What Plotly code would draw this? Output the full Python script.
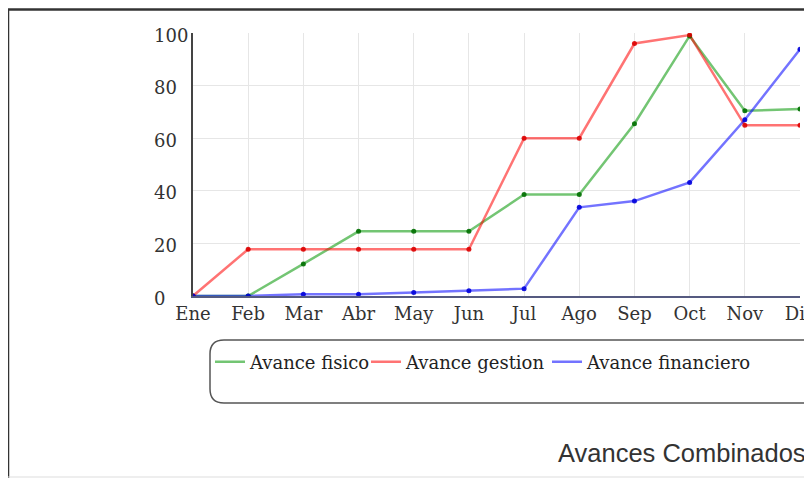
import plotly.graph_objects as go

months = ["Ene", "Feb", "Mar", "Abr", "May", "Jun", "Jul", "Ago", "Sep", "Oct", "Nov", "Dic"]
avance_fisico = [0, 0, 12.2, 24.6, 24.6, 24.6, 38.6, 38.6, 65.5, 98.9, 70.4, 71.1]
avance_gestion = [0, 17.8, 17.8, 17.8, 17.8, 17.8, 60.0, 60.0, 96.0, 99.2, 64.9, 64.9]
avance_financiero = [0, 0, 0.7, 0.7, 1.3, 2.0, 2.8, 33.7, 36.1, 43.2, 67.0, 93.8]
y_ticks = [0, 20, 40, 60, 80, 100]

W, H = 804, 478
OFF = 8  # page body margin
L, R, T, B = 185, 12, 25, 190
pw, ph = W - L - R, H - T - B


def px(x):  # screen x -> paper
    return (x - OFF - L) / pw


def py(y):  # screen y -> paper
    return (H - B - (y - OFF)) / ph


serif = "DejaVu Serif, Liberation Serif, serif"
xs = list(range(len(months)))
fig = go.Figure()
series = [
    ("Avance fisico", avance_fisico, "rgba(0,150,0,0.55)", "rgba(0,110,0,0.9)", "legend", 210),
    ("Avance gestion", avance_gestion, "rgba(255,0,0,0.55)", "rgba(220,0,0,0.9)", "legend2", 366),
    ("Avance financiero", avance_financiero, "rgba(0,0,255,0.55)", "rgba(0,0,220,0.9)", "legend3", 547),
]
legends = {}
for name, vals, lc, mc, lg, lx in series:
    fig.add_trace(go.Scatter(
        x=xs, y=vals, name=name, mode="lines", legend=lg,
        line=dict(color=lc, width=2.5),
    ))
    legends[lg] = dict(
        orientation="h", x=px(lx), y=py(362), xanchor="left", yanchor="middle",
        font=dict(family=serif, size=18, color="#222"),
        bgcolor="rgba(0,0,0,0)", borderwidth=0, itemwidth=30,
    )
for name, vals, lc, mc, lg, lx in series:
    fig.add_trace(go.Scatter(
        x=xs, y=vals, name=name, mode="markers", showlegend=False,
        marker=dict(color=mc, size=5),
    ))

fig.update_layout(
    width=W, height=H,
    margin=dict(l=L, r=R, t=T, b=B, autoexpand=False),
    paper_bgcolor="white", plot_bgcolor="white",
    showlegend=True,
    xaxis=dict(
        range=[0, len(months) - 1], tickvals=xs, ticktext=months,
        showgrid=True, gridcolor="#e6e6e6", gridwidth=1,
        showline=True, linecolor="#555a80", linewidth=2,
        zeroline=False, ticks="", ticklen=0, ticklabeloverflow="allow",
        automargin=False,
        tickfont=dict(family=serif, size=18, color="#333"),
    ),
    yaxis=dict(
        range=[0, 100], tickvals=y_ticks, showticklabels=False,
        showgrid=True, gridcolor="#e6e6e6", gridwidth=1,
        showline=True, linecolor="#444", linewidth=2,
        zeroline=False, ticks="", ticklen=0, automargin=False,
    ),
    **legends,
)

# Left-aligned y tick labels
for v in y_ticks:
    fig.add_annotation(
        text=str(v), xref="paper", yref="y", x=px(152), y=v,
        xanchor="left", yanchor="middle", yshift=-2, showarrow=False,
        font=dict(family=serif, size=18, color="#333"),
    )

# Rounded legend box
x0, x1, y0, y1, r = 210, 830, 340, 403, 14
path = (
    f"M {px(x0 + r)},{py(y0)} L {px(x1 - r)},{py(y0)} "
    f"Q {px(x1)},{py(y0)} {px(x1)},{py(y0 + r)} L {px(x1)},{py(y1 - r)} "
    f"Q {px(x1)},{py(y1)} {px(x1 - r)},{py(y1)} L {px(x0 + r)},{py(y1)} "
    f"Q {px(x0)},{py(y1)} {px(x0)},{py(y1 - r)} L {px(x0)},{py(y0 + r)} "
    f"Q {px(x0)},{py(y0)} {px(x0 + r)},{py(y0)} Z"
)
fig.add_shape(type="path", path=path, xref="paper", yref="paper",
              line=dict(color="#555", width=1.5), layer="below")

# Outer frame
fig.add_shape(type="line", xref="paper", yref="paper",
              x0=px(8), x1=px(8), y0=py(9), y1=py(490), line=dict(color="#333", width=2.5))
fig.add_shape(type="line", xref="paper", yref="paper",
              x0=px(7), x1=px(830), y0=py(9.5), y1=py(9.5), line=dict(color="#333", width=2.5))
fig.add_shape(type="line", xref="paper", yref="paper",
              x0=px(7), x1=px(830), y0=py(477), y1=py(477), line=dict(color="#ddd", width=1))

fig.add_annotation(
    text="Avances Combinados", xref="paper", yref="paper",
    x=px(808), y=py(453), xanchor="right", yanchor="middle", showarrow=False,
    font=dict(family="Liberation Sans, Arial, sans-serif", size=25.5, color="#333"),
)

fig.write_html("out.html")
